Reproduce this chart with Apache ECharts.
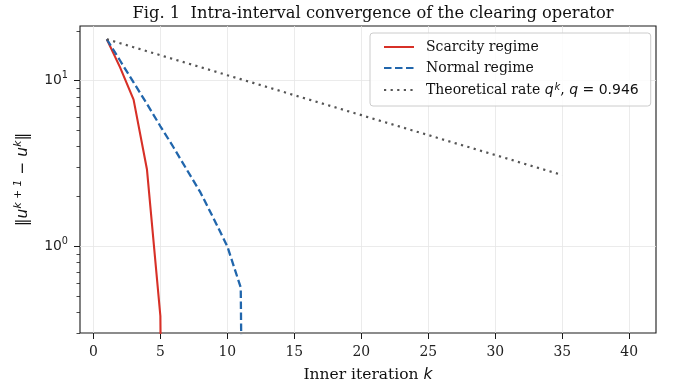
<!DOCTYPE html>
<html>
<head>
<meta charset="utf-8">
<script src="https://cdn.jsdelivr.net/npm/echarts@6/dist/echarts.min.js"></script>
<style>html,body{margin:0;padding:0;background:#fff}#c{width:673px;height:385px}</style>
</head>
<body>
<div id="c"></div>
<script>
// ---- data ----
const titleText = 'Fig. 1  Intra-interval convergence of the clearing operator';
const seriesNames = ['Scarcity regime', 'Normal regime', 'Theoretical rate'];
const kScarcity = [1, 2, 3, 4, 5, 6];
const scarcity = [17.8, 12.0, 7.69, 2.91, 0.38, 1e-9];
const kNormal = [1, 2, 3, 4, 5, 6, 7, 8, 9, 10, 11, 12];
const normal = [17.8, 13.2, 9.77, 7.24, 5.31, 3.94, 2.88, 2.11, 1.46, 1.0, 0.564, 1e-9];
const kTheory = [1,2,3,4,5,6,7,8,9,10,11,12,13,14,15,16,17,18,19,20,21,22,23,24,25,26,27,28,29,30,31,32,33,34,35];
const theory = [17.80,16.84,15.93,15.07,14.26,13.49,12.76,12.07,11.42,10.80,10.22,9.67,9.14,8.65,8.18,7.74,7.32,6.93,6.55,6.20,5.86,5.55,5.25,4.96,4.70,4.44,4.20,3.98,3.76,3.56,3.37,3.18,3.01,2.85,2.70];
const xTicks = [0, 5, 10, 15, 20, 25, 30, 35, 40];
const yMajorTicks = [1, 10];
const yMinorTicks = [0.3, 0.4, 0.5, 0.6, 0.7, 0.8, 0.9, 2, 3, 4, 5, 6, 7, 8, 9, 20];
const xRange = [-1, 42];
const yRange = [0.3, 21.4];

const serif = 'DejaVu Serif';
const sans = 'DejaVu Sans';
const zip = (xs, ys) => xs.map((x, i) => [x, ys[i]]);

const chart = echarts.init(document.getElementById('c'), null, {renderer: 'canvas'});
chart.setOption({
  animation: false,
  backgroundColor: '#fff',
  title: {
    text: titleText, left: 368, top: 1, textAlign: 'center',
    textStyle: {fontFamily: serif, fontSize: 16.3, fontWeight: 'normal', color: '#111'}
  },
  grid: {left: 80, right: 17, top: 26, bottom: 52, containLabel: false, outerBoundsMode: 'none',
    show: true, borderColor: '#1a1a1a', borderWidth: 1.1, backgroundColor: 'transparent'},
  legend: {
    orient: 'vertical', left: 370, top: 33,
    padding: [7, 12, 9, 13], itemGap: 7, itemWidth: 30, itemHeight: 14,
    backgroundColor: 'rgba(255,255,255,0.85)', borderColor: '#cccccc', borderWidth: 1, borderRadius: 3,
    itemStyle: {opacity: 0},
    data: seriesNames,
    formatter: function (n) {
      if (n === 'Theoretical rate') return '{t|Theoretical rate }{m|q}{s|k}{t|, }{m|q}{e| = 0.946}';
      return '{t|' + n + '}';
    },
    textStyle: {
      padding: [0, 0, 0, 7],
      rich: {
        t: {fontFamily: serif, fontSize: 14, color: '#111', lineHeight: 16},
        m: {fontFamily: sans, fontStyle: 'italic', fontSize: 14, color: '#111', lineHeight: 16},
        s: {fontFamily: sans, fontStyle: 'italic', fontSize: 9.8, color: '#111', verticalAlign: 'top', lineHeight: 16, padding: [0, 0, 0, 1]},
        e: {fontFamily: sans, fontSize: 14, color: '#111', lineHeight: 16}
      }
    }
  },
  xAxis: {
    type: 'value', min: xRange[0], max: xRange[1],
    name: '{t|Inner iteration }{m|k}', nameLocation: 'middle', nameGap: 34,
    nameTextStyle: {rich: {
      t: {fontFamily: serif, fontSize: 15.5, color: '#111'},
      m: {fontFamily: sans, fontStyle: 'italic', fontSize: 15.5, color: '#111'}
    }},
    axisLine: {show: false, onZero: false},
    axisTick: {show: true, customValues: xTicks, length: 6, lineStyle: {color: '#1a1a1a', width: 1}},
    axisLabel: {customValues: xTicks, fontFamily: serif, fontSize: 13.9, color: '#222', margin: 12},
    splitLine: {show: true, lineStyle: {color: '#e6e6e6', width: 0.8}}
  },
  yAxis: [
    {
      type: 'log', logBase: 10, min: yRange[0], max: yRange[1], position: 'left',
      name: '{n|‖}{m|u}{s|k + 1}{n| − }{m|u}{s|k}{n|‖}', nameLocation: 'middle', nameGap: 47, nameRotate: 90,
      nameTextStyle: {rich: {
        n: {fontFamily: sans, fontSize: 15.5, color: '#111', lineHeight: 20},
        m: {fontFamily: sans, fontStyle: 'italic', fontSize: 15.5, color: '#111', lineHeight: 20},
        s: {fontFamily: sans, fontStyle: 'italic', fontSize: 10.8, color: '#111', verticalAlign: 'top', lineHeight: 20}
      }},
      axisLine: {show: false, onZero: false},
      axisTick: {show: true, customValues: yMajorTicks, length: 6, lineStyle: {color: '#1a1a1a', width: 1}},
      axisLabel: {
        customValues: yMajorTicks, margin: 12,
        formatter: function (v) { return '{b|10}{s|' + Math.round(Math.log10(v)) + '}'; },
        rich: {
          b: {fontFamily: sans, fontSize: 13.9, color: '#222', lineHeight: 20},
          s: {fontFamily: sans, fontSize: 9.7, color: '#222', verticalAlign: 'top', lineHeight: 20}
        }
      },
      splitLine: {show: true, lineStyle: {color: '#e6e6e6', width: 0.8}}
    },
    {
      // minor-tick decoration axis (log10 space), carries no series
      type: 'value', min: Math.log10(yRange[0]), max: Math.log10(yRange[1]), position: 'left', offset: 0,
      axisLine: {show: false, onZero: false},
      axisTick: {show: true, customValues: yMinorTicks.map(Math.log10), length: 3.5, lineStyle: {color: '#1a1a1a', width: 0.8}},
      axisLabel: {show: false},
      splitLine: {show: false}
    }
  ],
  series: [
    {
      name: seriesNames[0], type: 'line', yAxisIndex: 0, data: zip(kScarcity, scarcity),
      showSymbol: false, symbol: 'none', clip: true,
      lineStyle: {color: '#d73027', width: 2.1, type: 'solid'}, itemStyle: {color: '#d73027'}
    },
    {
      name: seriesNames[1], type: 'line', yAxisIndex: 0, data: zip(kNormal, normal),
      showSymbol: false, symbol: 'none', clip: true,
      lineStyle: {color: '#2166ac', width: 2.3, type: [7.5, 3.5]}, itemStyle: {color: '#2166ac'}
    },
    {
      name: seriesNames[2], type: 'line', yAxisIndex: 0, data: zip(kTheory, theory),
      showSymbol: false, symbol: 'none', clip: true,
      lineStyle: {color: '#555555', width: 2.2, type: [2.2, 4.4], cap: 'butt'}, itemStyle: {color: '#555555'}
    }
  ]
});
</script>
</body>
</html>
